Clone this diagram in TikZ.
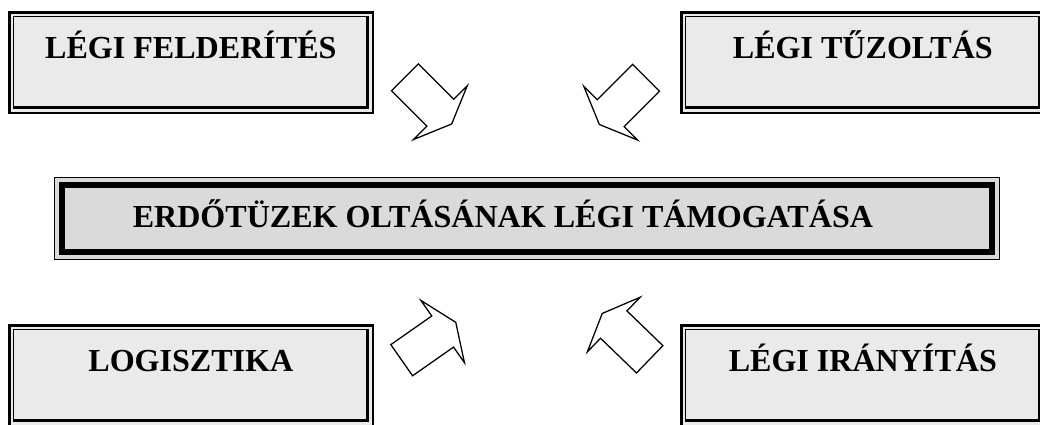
\documentclass[tikz,border=0pt]{standalone}
\usepackage{fontspec}
\setmainfont{Liberation Serif}
\usetikzlibrary{calc}

\definecolor{boxgray}{RGB}{234,234,234}
\definecolor{coregray}{RGB}{218,218,218}

\begin{document}
\begin{tikzpicture}[
  x=0.025cm, y=-0.025cm,
  font=\fontsize{22.8}{27}\selectfont\bfseries,
  task/.style={fill=boxgray,inner sep=0pt,minimum width=9.125cm,text height=1.175cm,text depth=1.375cm,anchor=north west},
  core/.style={fill=coregray,inner sep=0pt,minimum width=23.625cm,text height=1.25cm,text depth=0.8cm,anchor=north west},
  flow/.pic={\draw[line width=.9pt,fill=white] (0,-19) -- (50,-19) -- (50,-38) -- (66,0) -- (50,38) -- (50,19) -- (0,19) -- cycle;}
]
\path[use as bounding box,clip] (0,0) rectangle (1040,424);

% Four supporting tasks round the main goal.
\node[task] (felderites) at (8,11) {LÉGI FELDERÍTÉS};
\node[task] (tuzoltas) at (680,11) {LÉGI TŰZOLTÁS};
\node[task] (logisztika) at (8,324) {LOGISZTIKA};
\node[task] (iranyitas) at (680,324) {LÉGI IRÁNYÍTÁS};
\node[core] (tamogatas) at (54,177) {ERDŐTÜZEK OLTÁSÁNAK LÉGI TÁMOGATÁSA\hspace*{1.2cm}};

% Thick-thin frames of the task boxes.
\foreach \n in {felderites,tuzoltas,logisztika,iranyitas}{
  \fill (\n.north west) rectangle ($(\n.north east)+(0,3)$);
  \fill (\n.north west) rectangle ($(\n.south west)+(3,0)$);
  \fill ($(\n.south west)+(0,-1.5)$) rectangle (\n.south east);
  \fill ($(\n.north east)+(-1.5,0)$) rectangle (\n.south east);
  \draw[line width=.7pt] ($(\n.north west)+(5,5)$) rectangle ($(\n.south east)+(-5,-5)$);
  \fill ($(\n.south west)+(5,-4.5)$) rectangle ($(\n.south east)+(-4.5,-7.5)$);
  \fill ($(\n.north east)+(-4.5,5)$) rectangle ($(\n.south east)+(-7.5,-4.5)$);
}

% Thin-thick frame of the main goal.
\draw[line width=.7pt] ($(tamogatas.north west)+(.5,.5)$) rectangle ($(tamogatas.south east)+(-.5,-.5)$);
\draw[line width=4.3pt] ($(tamogatas.north west)+(8,8)$) rectangle ($(tamogatas.south east)+(-8,-8)$);

% Block arrows pointing to the main goal.
\pic[rotate=-45] at (405,77.3) {flow};
\pic[rotate=-135] at (646,77.8) {flow};
\pic[rotate=35] at (401.7,360.2) {flow};
\pic[rotate=136] at (649.7,359.3) {flow};
\end{tikzpicture}
\end{document}
